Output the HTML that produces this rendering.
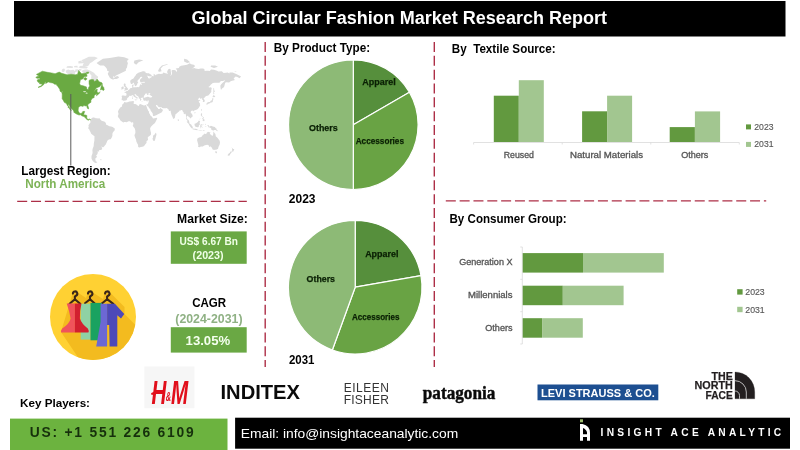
<!DOCTYPE html>
<html lang="en">
<head>
<meta charset="utf-8">
<title>Global Circular Fashion Market Research Report</title>
<style>
html,body{margin:0;padding:0;background:#fff;}
body{width:800px;height:450px;overflow:hidden;position:relative;font-family:"Liberation Sans",sans-serif;}
svg{position:absolute;left:0;top:0;display:block;}
text{font-family:"Liberation Sans",sans-serif;}
.b{font-weight:bold;}
.lbl{font-weight:bold;font-size:8.8px;fill:#0a2004;stroke:#0a2004;stroke-width:0.25px;}
.ax{font-size:8.4px;fill:#555;stroke:#555;stroke-width:0.3px;}
.lg{font-size:9.3px;fill:#595959;stroke:#595959;stroke-width:0.15px;}
</style>
</head>
<body>
<svg width="800" height="450" viewBox="0 0 800 450">
<!-- header -->
<rect x="14" y="1" width="771.5" height="35.5" fill="#000"/>
<text class="b" x="191.5" y="24.2" font-size="18" fill="#fff" textLength="415.5" lengthAdjust="spacingAndGlyphs">Global Circular Fashion Market Research Report</text>

<!-- world map -->
<g id="map">
<path d="M96.6,63.0 99.5,60.9 102.9,58.8 109.8,58.0 118.4,56.6 124.2,57.2 128.8,59.1 127.0,60.9 127.9,63.2 127.3,65.4 127.0,67.4 125.9,68.9 125.9,70.8 123.9,71.7 121.3,72.9 119.3,73.9 117.0,75.0 115.3,76.0 114.4,77.7 113.8,79.5 112.7,79.6 111.0,78.8 109.8,77.7 109.0,76.3 108.1,74.8 107.8,73.0 109.3,71.7 107.2,70.8 107.0,68.9 105.5,66.9 103.8,65.4 100.1,65.4 97.8,64.1ZM90.5,119.6 90.8,119.9 91.5,118.3 91.9,118.0 93.5,117.3 93.9,117.5 93.7,118.1 94.7,117.7 94.7,117.3 95.5,118.3 96.9,118.3 98.1,118.4 99.2,118.2 99.8,118.9 100.4,119.6 101.3,120.5 102.1,121.1 103.3,121.2 104.7,121.7 105.3,122.2 106.1,123.7 106.1,124.8 107.0,125.1 107.6,125.2 109.3,126.2 111.0,126.6 112.7,127.1 113.6,127.8 114.6,128.2 114.8,129.7 114.4,130.7 113.6,131.6 112.7,132.8 112.4,134.1 112.4,135.7 112.0,136.9 111.7,137.6 110.7,139.2 109.9,139.2 108.4,139.8 107.3,140.8 106.9,142.1 106.4,143.1 105.8,144.5 105.0,145.3 104.1,146.5 103.3,147.2 102.6,147.2 101.5,146.5 101.3,147.0 102.0,147.6 102.2,148.3 101.8,149.5 101.0,149.9 99.2,150.1 99.1,151.4 97.5,151.5 97.5,152.6 98.2,152.6 97.5,153.4 97.2,154.5 96.1,155.3 96.9,156.4 96.7,157.2 95.2,158.8 95.6,160.3 95.5,160.9 97.4,162.3 96.7,162.7 95.2,163.0 93.8,161.9 92.4,160.4 91.5,158.4 91.5,156.0 92.4,153.7 92.6,152.3 92.4,150.8 92.6,148.8 92.8,148.5 93.7,145.9 93.8,143.8 94.1,142.1 94.4,140.5 94.4,139.5 94.5,136.3 93.5,135.4 91.8,134.3 91.0,133.4 90.6,132.2 89.8,130.7 89.0,129.1 88.2,128.5 88.2,127.7 88.7,126.9 88.9,126.3 88.3,126.2 88.5,125.4 88.9,124.7 88.9,124.2 89.6,123.9 89.6,123.3 90.5,122.4 90.4,121.4 90.4,120.6 90.1,120.4ZM124.3,102.1 124.7,102.0 126.0,102.5 127.4,102.2 129.4,101.4 131.7,101.3 133.3,101.0 134.0,101.3 133.7,102.0 133.9,102.9 133.4,103.4 134.1,103.9 135.3,104.1 136.4,104.5 138.0,105.7 138.9,105.9 139.2,104.7 140.0,104.1 140.9,104.3 142.0,104.8 143.2,105.2 144.3,105.5 144.9,105.3 145.5,105.1 146.2,105.2 146.3,106.1 146.9,107.4 147.2,108.4 147.8,109.7 148.2,110.7 148.9,111.4 149.0,112.0 149.0,112.9 149.8,113.9 150.4,115.5 151.2,116.1 152.1,117.1 152.5,117.4 152.5,118.0 153.2,118.6 153.5,118.6 154.7,118.2 155.8,118.1 157.1,117.7 157.1,118.7 156.7,119.6 156.1,120.8 155.5,122.0 154.7,123.3 153.7,123.9 152.6,125.0 152.1,125.4 151.5,126.2 151.1,126.5 150.5,127.6 150.1,128.5 150.2,129.3 150.4,130.3 150.6,131.4 150.9,131.9 151.0,133.1 151.1,134.3 150.6,135.1 149.5,136.0 148.9,136.3 147.7,137.4 147.9,138.8 148.1,140.1 146.6,141.1 146.5,141.5 146.6,142.4 146.1,143.4 145.5,144.0 144.9,145.0 143.8,146.2 142.4,146.8 140.9,146.9 139.2,147.4 138.3,147.0 138.0,146.0 138.2,145.1 137.4,143.8 137.2,143.2 136.4,141.8 136.0,139.5 135.3,137.9 134.5,135.8 134.6,134.7 135.4,132.9 135.3,130.5 134.8,128.8 134.5,128.0 134.0,127.4 133.2,126.5 132.7,125.5 133.1,124.9 133.3,123.7 133.3,122.7 132.8,122.3 132.5,122.3 131.7,122.4 131.1,122.5 130.7,121.8 129.6,121.2 128.6,121.3 127.6,121.7 126.6,122.2 125.4,121.9 124.3,122.1 123.3,122.4 121.5,121.2 120.5,120.5 120.1,119.9 119.8,119.2 119.1,118.3 118.5,117.7 118.1,116.8 117.7,116.0 118.2,115.2 118.5,113.9 118.4,113.1 118.0,112.1 118.1,111.2 118.5,110.3 119.2,109.1 120.0,108.1 120.2,107.5 121.2,106.9 122.0,106.4 122.1,105.7 122.1,105.1 122.4,104.5 123.3,103.6 123.8,103.4ZM121.8,100.3 121.6,99.2 122.0,97.4 121.6,96.1 122.4,95.5 123.6,95.6 124.9,95.7 126.1,95.8 126.5,94.8 126.5,93.8 125.9,93.0 124.5,92.4 124.3,92.0 125.4,91.7 126.2,91.8 126.2,91.0 127.3,91.1 128.1,90.6 128.3,90.0 129.3,89.6 129.7,89.0 130.1,88.3 131.4,87.9 132.3,87.7 132.4,86.7 132.1,86.2 132.1,84.9 133.6,84.3 133.4,85.4 133.7,85.8 133.1,86.5 133.2,87.1 133.7,87.5 134.7,87.2 135.3,87.1 135.8,87.6 137.1,87.1 138.3,87.2 139.1,87.1 139.2,86.7 139.8,86.1 139.8,84.9 140.2,84.4 140.7,84.3 141.3,84.9 141.8,84.8 141.8,83.9 141.3,83.5 141.2,83.0 142.1,82.7 144.0,82.7 145.3,82.4 144.6,82.1 144.3,81.7 142.2,82.1 141.0,82.4 140.4,81.9 140.0,80.9 140.1,79.5 141.6,78.1 142.4,77.6 141.7,76.8 140.4,77.1 139.9,78.1 139.4,78.8 138.3,79.7 137.6,80.4 137.5,81.7 138.3,82.7 137.3,83.5 137.1,84.8 136.5,85.6 135.8,86.1 135.0,86.3 134.8,85.6 134.3,84.3 133.9,83.2 133.6,82.5 132.9,83.2 132.0,84.0 131.1,84.0 130.6,83.2 130.3,81.9 130.2,80.9 130.8,80.0 132.3,79.0 133.2,78.7 134.1,77.6 134.7,76.6 135.8,75.3 136.2,74.2 138.3,72.7 139.8,72.2 141.4,71.7 142.7,71.2 144.0,71.3 145.8,72.0 145.2,72.6 147.0,73.2 148.8,73.3 151.2,74.7 151.9,75.8 150.3,76.5 148.2,76.1 146.7,75.6 147.9,77.1 148.2,78.3 150.0,78.5 149.7,77.6 151.2,77.9 151.2,76.6 152.7,76.1 153.5,76.6 153.8,74.5 153.1,73.8 154.7,74.3 155.0,75.6 155.9,74.8 158.9,73.8 160.1,74.0 162.5,73.7 163.4,72.6 165.5,73.2 166.7,73.5 168.2,74.2 167.3,73.0 167.2,71.3 168.2,69.6 169.1,68.8 170.6,69.3 170.8,71.3 171.2,74.0 170.3,76.1 171.5,75.1 172.1,73.5 171.5,70.8 172.4,70.0 173.9,69.9 175.4,70.2 176.6,71.9 177.2,70.4 175.7,68.5 179.0,68.1 179.3,66.7 181.1,65.8 184.1,65.3 187.1,64.8 189.7,63.3 191.3,64.2 193.7,64.7 195.2,66.1 193.1,67.9 191.3,68.8 194.3,68.1 195.5,68.4 198.5,69.1 200.8,68.5 203.2,68.5 204.4,69.3 204.7,71.1 206.2,70.8 208.0,70.7 209.8,70.9 211.0,69.6 214.0,69.7 217.0,70.7 218.5,71.4 221.8,71.3 223.6,73.0 226.0,72.8 227.8,72.4 229.3,73.5 229.6,72.4 232.6,72.6 235.0,73.5 236.8,74.2 239.2,75.6 241.1,76.5 239.5,78.2 237.4,77.1 235.6,76.6 234.4,77.8 233.5,77.9 234.6,79.5 234.5,80.2 232.0,80.7 230.2,81.6 229.2,82.4 226.6,82.3 225.4,82.5 224.8,84.1 224.5,85.5 224.1,86.7 223.0,88.1 222.2,88.3 221.0,89.9 220.6,88.3 220.3,85.8 221.2,84.2 222.7,82.7 224.2,81.4 225.1,80.0 223.0,80.9 220.9,80.9 219.4,82.7 217.6,82.7 214.6,82.8 212.8,82.9 211.0,84.5 209.5,86.2 208.3,86.9 209.5,87.5 210.7,87.3 211.8,88.1 211.6,88.9 211.3,90.3 211.3,91.9 210.4,93.1 209.2,94.6 208.3,95.5 206.2,95.9 205.5,96.6 204.9,97.3 203.6,98.4 203.5,98.8 204.1,99.3 204.7,100.3 204.7,101.4 204.4,101.7 203.5,101.9 202.8,102.1 202.9,101.0 203.0,100.0 202.0,99.6 202.2,98.6 201.6,98.2 200.0,99.0 200.2,97.9 199.7,97.5 198.8,98.4 197.7,98.9 198.2,99.6 198.8,100.2 199.7,99.9 200.5,100.2 199.4,101.0 198.6,101.7 199.4,102.8 200.1,103.8 200.1,104.4 199.7,104.9 200.2,105.2 200.0,106.1 199.5,106.4 198.8,107.7 198.0,108.7 197.1,109.5 195.6,110.1 194.9,110.3 193.7,110.7 193.3,111.4 192.9,110.7 192.2,110.5 191.1,111.1 190.6,112.2 191.0,112.9 192.0,114.1 192.6,115.3 192.6,116.5 191.9,117.3 191.1,117.5 191.0,118.1 190.0,118.6 190.1,117.8 189.7,117.4 188.9,117.0 188.5,116.4 187.7,116.1 187.4,115.6 187.1,116.2 186.8,117.1 186.7,118.2 187.2,118.7 187.4,119.5 188.1,119.7 188.6,120.2 189.1,120.9 189.2,122.1 189.5,123.0 189.1,123.0 187.9,122.1 187.4,121.1 187.3,120.2 186.8,119.7 186.1,119.0 186.2,117.8 186.3,116.5 185.9,115.3 185.7,114.2 185.6,113.7 184.9,113.7 184.3,114.2 183.7,114.1 183.8,113.1 183.5,112.2 182.8,111.4 182.2,110.1 181.4,110.0 180.5,110.4 179.9,110.5 179.3,110.7 179.2,111.4 178.6,111.7 177.8,112.4 177.1,113.0 176.4,113.7 175.7,114.2 175.2,114.7 175.3,115.8 175.0,116.8 175.0,117.6 174.5,118.2 174.0,118.4 173.6,118.9 173.0,118.4 172.8,117.8 172.4,116.7 172.0,116.0 171.4,114.4 171.0,113.1 170.8,112.2 170.7,111.2 170.7,110.4 170.0,111.0 169.3,111.0 168.5,110.1 169.1,109.8 168.4,109.5 167.3,108.5 167.0,108.1 165.8,108.2 164.3,108.3 163.4,108.2 162.2,108.0 161.5,107.2 160.9,107.0 160.0,107.3 158.9,107.1 158.0,106.5 157.6,105.8 157.1,105.0 156.4,104.9 155.9,105.4 156.3,106.3 156.8,106.9 157.3,107.4 157.6,108.0 157.9,107.7 158.1,108.4 157.9,108.8 158.6,108.9 159.5,108.9 160.3,108.2 160.9,107.6 161.0,108.5 162.2,109.3 163.0,110.0 162.4,111.2 161.8,112.2 161.0,112.8 159.5,113.4 158.5,114.1 157.1,114.7 156.2,115.3 154.1,116.0 153.2,116.1 152.9,115.3 152.8,114.4 152.7,113.4 151.9,112.2 150.9,110.9 150.6,110.6 150.3,109.3 149.5,108.4 148.8,107.4 148.2,106.4 148.2,105.4 147.7,106.5 146.7,105.1 146.5,104.2 147.6,104.2 147.9,104.1 148.2,103.2 148.5,102.5 148.7,101.7 148.8,100.8 148.9,100.5 147.9,100.5 147.0,101.0 145.6,100.5 144.6,100.7 143.7,100.5 143.1,99.4 143.4,99.3 142.9,98.6 142.9,98.2 143.7,97.9 144.6,97.9 144.7,97.4 146.1,97.3 147.3,96.8 148.2,96.8 149.1,97.3 150.3,97.6 151.0,97.5 152.1,97.1 152.1,96.2 151.0,95.7 149.8,94.8 149.4,94.3 150.0,93.4 150.7,92.9 149.7,93.1 148.3,93.6 148.5,94.3 149.1,94.3 148.2,94.7 147.4,95.0 146.7,94.3 147.4,93.8 146.4,93.6 145.6,93.4 145.0,94.4 144.4,95.2 144.0,95.9 143.7,96.4 144.0,96.9 144.6,97.4 144.0,97.5 143.4,97.7 142.9,98.2 142.8,97.7 142.2,97.6 141.6,97.7 141.6,98.2 141.3,98.1 140.9,97.8 140.7,98.4 141.1,98.9 141.6,99.5 141.4,99.7 141.0,100.0 141.1,100.7 140.7,100.7 140.2,100.5 140.0,99.9 140.2,99.4 139.8,99.1 139.3,98.5 138.8,97.9 138.8,97.2 138.3,96.4 138.0,96.3 137.0,95.7 136.3,95.2 135.9,94.3 135.3,94.6 135.4,94.0 134.6,94.3 134.6,94.9 135.3,95.6 135.7,96.4 136.9,96.9 136.8,97.2 137.4,97.4 138.3,98.1 138.3,98.2 138.0,98.3 137.4,97.9 137.1,98.5 137.4,98.9 137.1,99.4 136.6,99.6 136.7,99.2 136.8,98.6 136.5,98.2 136.1,97.8 135.7,97.7 135.0,97.3 134.5,96.9 133.8,96.5 133.5,96.1 133.4,95.6 133.1,95.2 132.5,95.0 132.0,95.4 131.6,95.5 130.8,96.0 130.4,95.8 129.6,95.7 129.1,96.1 129.1,96.6 128.5,97.2 127.7,97.7 127.0,98.6 127.3,99.1 126.9,99.4 126.7,99.9 125.9,100.5 124.6,100.6 124.0,101.0 123.4,100.7 123.0,100.2 122.4,100.3ZM123.8,90.7 125.1,90.5 126.6,90.2 128.0,89.8 127.8,89.5 128.2,88.6 127.4,88.3 127.1,87.5 126.3,86.7 126.0,86.0 125.3,85.8 126.0,84.5 125.1,84.3 125.4,83.5 124.2,83.5 123.7,84.5 123.9,85.8 124.3,86.7 125.1,86.7 125.4,87.5 125.4,88.0 124.5,88.1 124.7,88.7 124.1,89.3 125.1,89.5 125.4,89.8 124.5,89.9ZM123.6,89.0 123.5,88.1 123.9,87.0 123.3,86.5 122.3,86.5 122.1,87.2 121.2,87.3 121.3,88.1 121.8,88.3 121.0,89.1 121.3,89.5 122.4,89.3ZM113.7,78.7 115.2,79.0 116.4,79.1 118.2,78.3 119.1,77.6 118.3,76.4 117.3,76.1 116.1,76.6 114.6,77.1 113.7,76.2 112.8,77.0 114.0,77.6 112.8,77.8 114.0,78.3ZM206.8,105.0 207.4,104.8 207.7,103.7 208.3,103.9 209.1,103.2 209.9,103.4 210.6,102.6 211.6,102.6 212.2,102.2 212.7,101.9 212.9,100.2 213.4,99.2 213.2,97.9 212.5,97.9 212.3,99.0 212.0,100.0 211.1,100.8 210.6,100.7 210.4,101.3 210.0,101.9 208.8,102.0 208.0,102.2 207.1,102.8 206.6,103.4 206.4,103.9ZM212.4,97.6 212.9,97.0 214.1,97.3 215.4,96.4 214.8,95.9 213.4,94.8 213.2,95.9 212.6,96.5ZM213.4,94.3 214.3,94.0 214.0,92.0 214.9,92.0 214.2,90.0 214.0,87.7 213.4,88.3 213.4,91.2ZM200.9,110.4 201.4,111.1 201.9,109.4 201.7,108.9 201.1,109.6ZM194.3,112.8 194.8,113.5 195.4,113.1 195.7,112.5 194.9,112.3ZM177.8,119.9 177.9,118.8 178.6,119.5 178.9,120.5 178.5,121.0 177.9,121.1ZM186.7,121.4 187.9,121.6 189.6,123.4 191.4,124.8 191.9,126.0 192.8,126.8 192.7,128.4 191.9,128.4 190.7,127.3 189.6,125.7 188.6,123.8 187.3,122.5ZM192.4,129.0 193.2,128.5 194.2,128.8 195.7,128.8 196.7,129.1 197.7,129.6 197.6,130.2 195.7,129.9 193.9,129.6 193.1,129.4ZM194.5,124.6 194.8,123.6 195.8,123.6 196.8,122.8 197.8,121.9 198.8,120.6 199.4,120.8 200.2,121.6 199.7,122.2 199.6,123.6 200.2,124.2 199.4,124.8 198.8,125.7 198.7,127.0 197.7,127.3 196.2,126.9 195.2,126.5 194.6,125.3ZM200.5,128.2 200.5,127.0 200.1,126.3 200.7,124.5 201.3,124.0 202.8,124.2 203.7,123.8 203.4,124.6 201.7,124.5 200.9,125.4 201.7,125.4 202.7,125.4 202.0,125.9 201.7,126.3 202.3,127.0 202.5,128.1 201.9,127.8 201.4,126.6 201.0,126.6 201.0,128.2ZM207.1,125.3 208.8,125.3 209.4,126.8 210.9,125.8 212.9,126.4 214.9,127.1 215.7,128.2 216.8,128.8 216.3,129.1 217.2,130.3 218.3,131.2 216.9,131.1 215.7,129.9 214.3,130.0 213.7,130.5 212.9,130.4 211.7,129.7 211.1,129.9 211.4,129.0 211.0,128.2 209.7,127.6 208.3,127.3 208.1,126.5 208.7,126.2 207.7,126.0ZM201.1,113.3 202.1,113.4 202.1,114.6 201.7,115.5 202.4,116.1 203.1,116.8 202.8,116.9 202.0,116.3 201.3,116.3 200.9,115.5 200.8,114.7ZM202.0,120.5 202.8,119.5 204.0,118.8 204.5,119.9 204.4,120.9 203.9,121.3 203.1,120.8 202.8,120.2ZM202.0,118.3 202.8,117.7 204.0,117.1 204.0,118.3 203.1,118.6 202.5,119.1ZM199.2,119.6 200.5,118.1 200.4,118.6 199.6,119.6ZM198.2,129.9 199.1,129.9 200.2,130.0 202.5,129.9 202.5,130.2 200.2,130.5 198.5,130.3ZM202.8,131.2 203.7,130.1 204.9,130.0 204.0,130.8ZM205.1,123.7 205.7,123.9 205.7,125.1 205.2,125.1ZM204.5,126.8 205.7,126.5 206.8,126.8 205.7,127.0ZM156.0,132.5 156.5,134.7 156.1,136.0 155.5,138.2 154.8,140.7 153.6,141.1 152.8,139.8 152.5,138.5 153.2,137.2 152.9,135.7 154.4,134.7 155.2,133.6ZM197.4,138.5 197.1,140.2 197.5,141.8 198.0,143.8 198.4,145.2 198.0,146.8 199.6,147.3 200.8,146.5 202.8,146.5 204.3,145.4 206.0,144.9 207.2,144.8 208.6,145.3 209.5,147.0 210.0,147.1 210.9,145.9 210.9,147.4 211.4,147.1 212.0,147.9 212.6,149.4 214.3,149.9 215.2,149.5 215.9,150.1 216.9,149.2 218.0,148.9 218.4,147.2 218.8,146.2 219.6,144.8 220.0,142.8 219.7,140.8 218.9,139.8 218.4,138.9 217.6,137.9 216.9,137.3 215.9,136.6 215.7,135.7 215.4,134.1 214.9,133.6 214.3,132.7 213.8,131.5 213.4,131.9 213.3,133.2 213.2,134.4 212.7,135.7 212.0,135.7 211.0,134.7 209.9,134.1 209.9,133.2 210.5,132.3 209.4,132.2 208.0,131.8 207.1,132.4 206.6,133.0 206.3,134.0 205.4,134.0 204.7,133.5 203.8,134.2 203.1,134.9 202.3,135.5 202.1,136.1 201.4,136.9 200.2,137.3 199.0,137.6 197.8,138.3ZM215.0,151.3 216.0,151.5 217.1,151.4 216.9,152.8 216.2,153.4 215.3,152.6ZM231.0,146.8 232.1,147.9 232.6,148.3 232.9,149.1 234.3,149.1 233.8,150.2 233.5,151.2 232.5,152.0 232.2,151.4 232.4,150.7 231.7,150.3 232.2,149.4 232.0,148.3ZM231.1,151.2 232.0,151.7 231.2,153.1 230.2,154.0 229.9,155.2 228.6,155.7 227.5,155.3 228.5,153.7 229.8,152.8 230.6,151.5ZM133.8,62.9 136.2,64.7 138.6,62.3 143.4,60.2 139.2,59.5 134.4,60.5ZM158.0,71.3 159.5,71.7 161.6,71.3 160.7,68.5 163.1,66.1 168.2,64.5 166.7,64.2 161.9,65.5 159.5,67.9 158.3,70.2ZM184.1,61.6 187.1,62.9 190.1,62.3 187.1,59.5 184.1,58.8ZM210.6,66.8 214.0,68.0 218.0,66.8 215.2,65.5 211.1,65.5ZM234.4,71.5 236.1,70.9 236.4,71.5 234.7,71.7ZM134.7,99.6 136.5,99.5 136.2,100.6 134.7,99.9ZM132.2,97.5 133.0,97.5 133.0,98.8 132.3,98.9ZM132.4,96.4 132.9,96.1 132.8,97.2 132.4,96.9ZM141.3,101.3 143.0,101.5 142.8,101.7 141.3,101.6ZM146.5,101.7 147.9,101.3 147.6,101.8 146.8,102.0ZM99.5,118.1 99.9,118.1 99.8,118.6 99.4,118.6ZM101.0,159.5 101.7,159.5 101.3,160.2 99.8,160.0 100.1,159.5Z" fill="#d9d9d9"/>
<path d="M95.6,81.8 96.5,80.3 97.9,77.8 98.2,76.8 96.8,75.8 95.1,74.2 94.2,73.1 92.2,71.7 89.9,70.4 87.3,69.4 84.8,69.6 82.5,70.2 81.9,71.6 83.3,72.7 84.8,73.1 87.0,72.5 89.1,72.7 90.5,74.4 91.6,75.8 91.1,77.3 91.6,79.0 89.1,79.3 90.5,80.1 92.5,80.8 93.9,81.5ZM74.7,74.4 75.6,71.4 73.3,69.8 70.4,70.2 68.1,69.6 65.5,70.8 66.4,72.9 68.4,74.2 71.6,74.5ZM63.0,72.2 61.5,71.1 62.4,69.0 64.1,68.4 65.0,69.8 64.4,71.4ZM87.6,66.2 82.5,65.9 83.6,63.3 80.7,60.5 84.2,59.1 88.8,56.8 94.5,56.8 97.9,57.9 95.1,59.8 92.2,61.9 89.9,63.3 88.8,65.3ZM87.6,67.8 86.5,68.4 80.7,68.2 78.4,67.2 80.7,65.7 84.8,66.2 87.6,66.9ZM78.7,71.1 81.3,70.4 81.6,69.2 78.7,69.0ZM75.0,71.9 77.9,71.6 77.9,69.2 75.3,69.6ZM66.4,67.8 72.7,68.0 73.0,66.5 70.4,65.9 67.0,66.2ZM78.4,63.6 83.0,63.3 81.9,60.5 78.4,61.2ZM73.9,67.2 77.9,67.5 77.3,65.8 74.4,65.9Z" fill="#e2e2e2"/>
<path d="M35.8,77.2 38.1,76.2 39.3,76.3 36.4,74.4 38.6,73.2 42.4,71.2 47.4,72.3 51.6,72.9 55.1,73.7 59.2,72.1 61.6,73.2 67.0,74.8 71.1,74.2 75.2,74.8 77.6,74.2 78.6,70.4 80.5,72.6 81.7,73.7 84.6,73.2 86.4,72.9 87.1,76.3 84.1,76.8 83.0,78.8 80.4,79.8 79.6,83.8 80.6,85.3 83.2,85.8 86.5,86.9 86.8,88.7 88.1,90.1 88.6,87.5 89.7,85.9 89.1,84.0 89.0,80.4 91.6,79.4 93.7,79.7 94.1,81.6 96.1,80.7 97.0,79.0 98.5,80.9 99.8,82.1 101.6,82.6 102.4,84.0 100.7,85.2 99.9,86.5 96.3,88.0 94.9,89.9 93.5,92.5 95.8,89.6 97.4,89.3 97.0,91.0 97.3,92.5 99.4,92.9 100.0,91.6 99.4,93.3 98.0,94.5 96.5,95.8 96.5,94.7 97.3,93.4 95.9,94.2 94.1,95.8 94.2,97.5 93.3,97.9 91.9,98.4 91.8,99.2 91.1,99.9 90.8,101.0 91.1,102.2 90.2,102.7 89.1,103.6 87.9,104.4 87.8,105.4 88.3,106.9 88.6,107.9 88.5,108.9 88.0,109.0 87.5,108.2 87.0,107.3 86.9,106.3 86.2,105.8 85.3,106.0 84.1,105.6 83.2,105.7 83.1,106.5 82.4,106.3 81.5,106.1 80.3,106.1 79.7,106.5 78.6,107.3 78.4,108.4 78.2,109.8 78.2,110.9 79.2,112.8 80.2,113.5 81.4,113.2 82.3,113.0 82.5,111.8 82.8,111.6 84.0,111.3 84.7,111.4 84.7,111.8 84.3,112.7 84.0,113.4 83.9,114.2 83.6,114.9 85.3,114.9 86.9,115.5 86.8,116.8 86.7,118.0 87.3,118.9 88.4,119.4 89.2,118.9 90.4,119.5 90.6,119.9 90.0,119.7 89.2,119.3 88.8,119.7 88.7,120.3 88.1,120.1 87.2,119.7 86.8,119.5 86.0,118.6 85.5,118.1 84.4,116.8 83.9,116.6 83.0,116.3 81.6,115.8 80.6,114.8 80.0,114.8 79.1,115.1 77.6,114.5 77.0,114.3 75.8,113.6 74.6,113.0 73.7,112.1 73.8,111.4 73.3,110.4 72.4,109.4 71.3,108.6 71.0,107.8 70.3,107.1 69.4,106.1 69.1,105.1 68.0,104.6 68.1,105.4 69.1,106.8 69.7,107.8 70.4,108.8 70.8,109.6 71.3,110.3 71.0,110.5 69.8,109.3 69.6,108.4 68.5,107.7 67.9,107.3 68.4,106.7 67.5,105.7 66.9,104.6 66.6,104.0 65.8,103.1 64.5,102.6 63.7,101.2 63.3,100.4 62.5,99.2 62.1,98.5 62.2,97.3 62.2,95.9 62.2,94.2 61.8,92.5 62.8,92.5 63.1,93.2 62.9,92.0 61.9,91.2 60.1,90.4 59.7,89.2 58.5,87.5 57.9,86.6 56.7,85.3 56.1,84.3 54.6,84.2 53.7,83.5 52.5,82.9 50.1,82.6 48.6,82.0 47.7,82.2 46.9,82.9 45.5,83.4 46.0,81.7 45.1,82.2 44.5,83.5 44.0,84.3 42.8,85.3 41.7,86.2 40.2,86.9 39.0,87.3 38.0,87.4 39.3,86.6 40.8,85.9 41.9,84.9 42.3,83.7 41.3,83.9 39.5,83.8 39.5,82.6 38.0,82.2 37.5,81.2 37.1,80.3 37.9,79.6 40.0,79.3 40.0,78.3 38.8,78.3 36.7,78.2ZM59.8,90.6 61.3,91.0 62.5,92.4 61.6,92.2 60.1,91.2ZM100.4,89.9 101.4,85.6 102.3,84.4 102.5,86.0 103.8,87.6 104.2,89.9 103.5,90.4 102.6,90.0 101.7,89.6ZM86.4,72.3 88.7,72.1 88.4,73.4 87.0,73.5ZM83.6,78.8 85.3,77.5 87.1,78.8 85.7,80.3 84.2,79.6Z" fill="#6aaa42" stroke="#6aaa42" stroke-width="0.5" stroke-linejoin="round"/>
<ellipse cx="84.6" cy="91.6" rx="1.6" ry="0.7" fill="#d4e8c6"/><ellipse cx="86.6" cy="93.2" rx="1" ry="0.6" fill="#d4e8c6"/>
<line x1="70.8" y1="94" x2="70.8" y2="165.5" stroke="#5a5a5a" stroke-width="1"/>
</g>
<text class="b" x="21.3" y="175.4" font-size="12" fill="#000" textLength="89.4" lengthAdjust="spacingAndGlyphs">Largest Region:</text>
<text class="b" x="25.3" y="188.3" font-size="12" fill="#7db356" textLength="80" lengthAdjust="spacingAndGlyphs">North America</text>

<!-- dashed separators -->
<g stroke="#ad2f47" stroke-width="1.4" stroke-dasharray="10 3.83" fill="none">
<line x1="17.2" y1="201.4" x2="246.8" y2="201.4"/>
<line x1="445.8" y1="200.9" x2="766.2" y2="200.9"/>
<line x1="265.2" y1="42" x2="265.2" y2="367"/>
<line x1="434.3" y1="42" x2="434.3" y2="367"/>
</g>

<!-- product type pies -->
<text class="b" x="273.8" y="52.3" font-size="12" textLength="96.3" lengthAdjust="spacingAndGlyphs">By Product Type:</text>
<path d="M353.3,124.7L353.30,59.90A64.8,64.8 0 0 1 409.42,92.30Z" fill="#568f3c" stroke="#fff" stroke-width="1.2" stroke-linejoin="round"/>
<path d="M353.3,124.7L409.42,92.30A64.8,64.8 0 0 1 353.30,189.50Z" fill="#69a344" stroke="#fff" stroke-width="1.2" stroke-linejoin="round"/>
<path d="M353.3,124.7L353.30,189.50A64.8,64.8 0 0 1 353.30,59.90Z" fill="#8dba76" stroke="#fff" stroke-width="1.2" stroke-linejoin="round"/>
<text class="lbl" x="362.3" y="85" textLength="33.4" lengthAdjust="spacingAndGlyphs">Apparel</text>
<text class="lbl" x="309" y="130.7" textLength="28.7" lengthAdjust="spacingAndGlyphs">Others</text>
<text class="lbl" x="355.7" y="143.8" textLength="48.3" lengthAdjust="spacingAndGlyphs">Accessories</text>
<text class="b" x="288.8" y="203" font-size="12" textLength="26.7" lengthAdjust="spacingAndGlyphs">2023</text>
<path d="M355.2,287.2L355.20,220.40A66.8,66.8 0 0 1 420.99,275.60Z" fill="#568f3c" stroke="#fff" stroke-width="1.2" stroke-linejoin="round"/>
<path d="M355.2,287.2L420.99,275.60A66.8,66.8 0 0 1 332.35,349.97Z" fill="#69a344" stroke="#fff" stroke-width="1.2" stroke-linejoin="round"/>
<path d="M355.2,287.2L332.35,349.97A66.8,66.8 0 0 1 355.20,220.40Z" fill="#8dba76" stroke="#fff" stroke-width="1.2" stroke-linejoin="round"/>
<text class="lbl" x="365.2" y="257.4" textLength="33.2" lengthAdjust="spacingAndGlyphs">Apparel</text>
<text class="lbl" x="306.6" y="281.6" textLength="28.4" lengthAdjust="spacingAndGlyphs">Others</text>
<text class="lbl" x="352" y="320" textLength="47.4" lengthAdjust="spacingAndGlyphs">Accessories</text>
<text class="b" x="289" y="364" font-size="12" textLength="25.5" lengthAdjust="spacingAndGlyphs">2031</text>

<!-- textile source bar chart -->
<text class="b" x="451.8" y="53.1" font-size="12" textLength="103.9" lengthAdjust="spacingAndGlyphs">By&#160;&#160;Textile Source:</text>
<g>
<rect x="493.8" y="95.7" width="25" height="46.3" fill="#62993f"/>
<rect x="518.8" y="80.2" width="25" height="61.8" fill="#a2c690"/>
<rect x="582.1" y="111.3" width="25" height="30.7" fill="#62993f"/>
<rect x="607.1" y="95.7" width="25" height="46.3" fill="#a2c690"/>
<rect x="669.7" y="127.1" width="25.2" height="14.9" fill="#62993f"/>
<rect x="694.9" y="111.4" width="25.2" height="30.6" fill="#a2c690"/>
<path d="M473.6,142.5H739.3M473.6,142.5v2M562.2,142.5v2M650.8,142.5v2M739.3,142.5v2" stroke="#d9d9d9" stroke-width="0.8" fill="none"/>
<text class="ax" x="503.8" y="158" textLength="30.2" lengthAdjust="spacingAndGlyphs">Reused</text>
<text class="ax" x="570" y="158" textLength="73" lengthAdjust="spacingAndGlyphs">Natural Materials</text>
<text class="ax" x="681.2" y="158" textLength="27.2" lengthAdjust="spacingAndGlyphs">Others</text>
<rect x="746" y="124.4" width="5" height="5" fill="#62993f"/>
<text class="lg" x="754.3" y="130" textLength="19.2" lengthAdjust="spacingAndGlyphs">2023</text>
<rect x="746" y="141.9" width="5" height="5" fill="#a2c690"/>
<text class="lg" x="754.3" y="147.2" textLength="19.2" lengthAdjust="spacingAndGlyphs">2031</text>
</g>

<!-- consumer group chart -->
<text class="b" x="449.5" y="222.6" font-size="12" textLength="117.1" lengthAdjust="spacingAndGlyphs">By Consumer Group:</text>
<g>
<path d="M522.3,247V344M522.3,247h-2M522.3,279.3h-2M522.3,311.7h-2M522.3,344h-2" stroke="#d9d9d9" stroke-width="0.8" fill="none"/>
<rect x="522.7" y="253.1" width="60.3" height="19.5" fill="#62993f"/>
<rect x="583" y="253.1" width="80.8" height="19.5" fill="#a2c690"/>
<rect x="522.7" y="285.7" width="40.1" height="19.5" fill="#62993f"/>
<rect x="562.8" y="285.7" width="60.8" height="19.5" fill="#a2c690"/>
<rect x="522.7" y="318.2" width="19.4" height="19.5" fill="#62993f"/>
<rect x="542.1" y="318.2" width="40.7" height="19.5" fill="#a2c690"/>
<text class="ax" x="459.2" y="265.2" textLength="53.3" lengthAdjust="spacingAndGlyphs">Generation X</text>
<text class="ax" x="468" y="297.8" textLength="44.5" lengthAdjust="spacingAndGlyphs">Millennials</text>
<text class="ax" x="485.3" y="330.5" textLength="27.2" lengthAdjust="spacingAndGlyphs">Others</text>
<rect x="737.2" y="289.2" width="5.4" height="5.4" fill="#62993f"/>
<text class="lg" x="745.3" y="295.2" textLength="19.4" lengthAdjust="spacingAndGlyphs">2023</text>
<rect x="737.2" y="306.8" width="5.4" height="5.4" fill="#a2c690"/>
<text class="lg" x="745.3" y="312.5" textLength="19.4" lengthAdjust="spacingAndGlyphs">2031</text>
</g>

<!-- market size -->
<text class="b" x="177.1" y="222.6" font-size="12" textLength="70.8" lengthAdjust="spacingAndGlyphs">Market Size:</text>
<rect x="170.8" y="231.4" width="75.9" height="32.4" fill="#6aa844"/>
<text class="b" x="179.5" y="245.1" font-size="10.4" fill="#efffe6" textLength="58.5" lengthAdjust="spacingAndGlyphs">US$ 6.67 Bn</text>
<text class="b" x="192.6" y="258.5" font-size="10.4" fill="#efffe6" textLength="31" lengthAdjust="spacingAndGlyphs">(2023)</text>
<text class="b" x="192.2" y="306.8" font-size="12.4" textLength="34" lengthAdjust="spacingAndGlyphs">CAGR</text>
<text class="b" x="175.3" y="323.3" font-size="12.2" fill="#8fb184" textLength="67.2" lengthAdjust="spacingAndGlyphs">(2024-2031)</text>
<rect x="170.8" y="327.2" width="75.9" height="25.4" fill="#6aa844"/>
<text class="b" x="185.6" y="344.5" font-size="13" fill="#f4ffee" textLength="44.6" lengthAdjust="spacingAndGlyphs">13.05%</text>

<!-- clothes icon -->
<g id="icon">
<defs><clipPath id="cc"><circle cx="93" cy="317" r="43"/></clipPath></defs>
<circle cx="93" cy="317" r="43" fill="#ffd133"/>
<g clip-path="url(#cc)">
<path d="M73,292L77,292L86,298L88,292L92,292L103,299L105,291.5L109,291.5L124.5,307L124.5,314L190,380L120,420L61,332Z" fill="#f3bb1f"/>
</g>
<!-- hangers -->
<g fill="none" stroke="#3a2618" stroke-width="2.1" stroke-linecap="round" stroke-linejoin="round">
<path d="M72.9,293.6a2.2,2.2 0 1 1 3.2,2l-1.2,1v2.6l-5.3,4.6M74.9,299.2l5.3,4.6"/>
<path d="M88,293.6a2.2,2.2 0 1 1 3.2,2l-1.2,1v2.6l-5,4M90,299.2l5,4.6"/>
<path d="M105.1,293.6a2.2,2.2 0 1 1 3.2,2l-1.2,1v2.6l-5.6,4.6M107.1,299.2l6.2,4.6"/>
</g>
<!-- green shirt -->
<path d="M80.7,303.7H90.5V339.6H80.7Z" fill="#8fd2a4"/>
<path d="M90.5,302.9H101.9V340.3H90.5Z" fill="#1aa260"/>
<!-- red dress -->
<path d="M66.7,303.6H74.9V332.6H61.2Q60.6,330.4 62.2,328.4Q69.6,323.5 70.6,318.4Q69.4,311 66.7,303.6Z" fill="#f0535b"/>
<path d="M74.9,303.6H81.5Q79.6,311 79.9,318.4Q81.5,323.5 87.8,328.4Q89.2,330.4 88.4,332.6H74.9Z" fill="#d2202f"/>
<!-- blue jumpsuit -->
<path d="M100.6,303.7H107.1V346.5H96.2L100.6,322Z" fill="#6c68d4"/>
<path d="M107.1,303.7H114.9L124.3,313.9L121,318.5L117.3,315.3V346.5H109.6L109.2,325H107.1Z" fill="#4d49b8"/>
</g>

<!-- key players -->
<text class="b" x="20" y="406.8" font-size="11.6" textLength="70" lengthAdjust="spacingAndGlyphs">Key Players:</text>
<rect x="144.4" y="366.5" width="50" height="41.7" fill="#f6f6f6"/>
<g id="logos">
<g transform="translate(151.6,404.2) scale(0.615,1)" fill="#e10f1b" font-weight="bold" font-style="italic">
<text x="0" y="0" font-size="33.5">H</text>
<text x="23" y="-3" font-size="12">&amp;</text>
<text x="31.5" y="0" font-size="33.5">M</text>
</g>
<path d="M152.2,393.8L157.5,391.6" stroke="#e10f1b" stroke-width="2.2" stroke-linecap="round"/>
<text class="b" x="220.5" y="398.7" font-size="20" fill="#0a0a0a" textLength="79.5" lengthAdjust="spacingAndGlyphs">INDITEX</text>
<text x="343.8" y="392" font-size="12" fill="#333" textLength="45" lengthAdjust="spacing">EILEEN</text>
<text x="343.8" y="403.8" font-size="12" fill="#333" textLength="45" lengthAdjust="spacing">FISHER</text>
<text x="422.8" y="398.8" font-size="18.6" font-weight="bold" fill="#0a0a0a" stroke="#0a0a0a" stroke-width="0.45" textLength="72.6" lengthAdjust="spacingAndGlyphs" style="font-family:'Liberation Serif',serif">patagonia</text>
<rect x="537.5" y="384.5" width="120.8" height="15.8" fill="#1d4f91"/>
<text class="b" x="541" y="396.5" font-size="10.6" fill="#fff" textLength="113.8" lengthAdjust="spacingAndGlyphs">LEVI STRAUSS &amp; CO.</text>
<g fill="#231f20" font-weight="bold" font-size="11.4" stroke="#231f20" stroke-width="0.25">
<text x="711.5" y="379.8" textLength="21.3" lengthAdjust="spacingAndGlyphs">THE</text>
<text x="694.5" y="389" textLength="38.3" lengthAdjust="spacingAndGlyphs">NORTH</text>
<text x="705.5" y="398.8" textLength="27.3" lengthAdjust="spacingAndGlyphs">FACE</text>
<path d="M735,372A19.7,20 0 0 1 754.7,392V398.8H735Z"/>
<path d="M735,380.7A11.3,11.3 0 0 1 746.3,392V398.8M735,391A4.5,4.5 0 0 1 739.5,395.5V398.8" fill="none" stroke="#c8c8c8" stroke-width="0.9"/>
</g>
</g>

<!-- footer -->
<rect x="10" y="418.6" width="217.5" height="31.4" fill="#6cb33f"/>
<text class="b" x="29.7" y="436.9" font-size="13.8" fill="#16300c" textLength="164" lengthAdjust="spacing">US: +1 551 226 6109</text>
<rect x="235.1" y="417.7" width="554.9" height="31" fill="#000"/>
<text x="240.8" y="437.5" font-size="13" fill="#fff" textLength="217.4" lengthAdjust="spacingAndGlyphs">Email: info@insightaceanalytic.com</text>
<rect x="580" y="419.3" width="3" height="3" fill="#9dbb6e"/>
<path fill-rule="evenodd" fill="#fff" d="M580,440.7V424H582.5Q590,425.5 590,433V440.7H587V437H583V440.7ZM583,434.2H587V432.5Q586.5,429.5 583,428Z"/>
<text class="b" x="600.6" y="436" font-size="10.2" fill="#fff" textLength="180.6" lengthAdjust="spacing">INSIGHT ACE ANALYTIC</text>
</svg>
</body>
</html>
